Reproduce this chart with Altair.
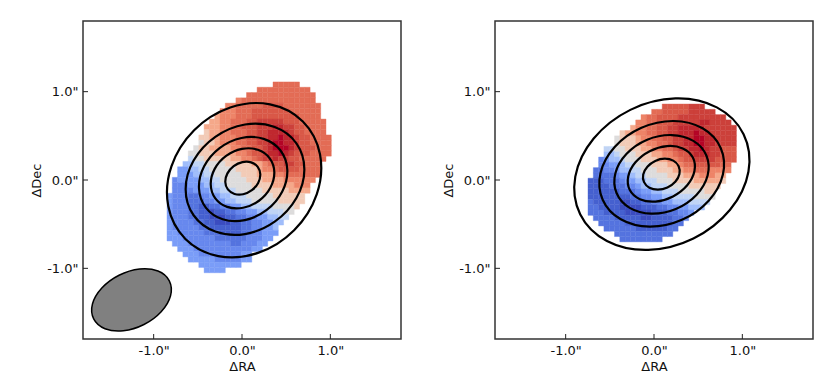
import altair as alt
import pandas as pd

# Velocity-map cells, one hex digit per cell (0 = deepest blue, f = deepest red)
left_starts = [20,17,15,13,11,10,9,8,7,7,6,6,5,4,4,3,2,2,1,1,1,0,0,0,0,0,0,0,0,0,1,2,3,4,6,7]
left_rows = [
 "bbbbb","bbbbbbbbbb","bbbbbbbbbbbbb","abbbbbbbbbbbbbb","aabbbbbccccbbbbbbb",
 "aaabbbcccccccbbbbbb","9aaabbbcccccccccbbbb","99aabbbccdddddcccbbbbb","999aabbcccdddeeddccbbbb",
 "899aabbbccddeeeedccbbbb","8899aaabbccddeefeedccbbbb","7889aaabbccddeffeedccbbbb",
 "7889999aabbccdefffedcccbbb","778889999aabccdeefedcccbbbb","6778888899aabcddeddccbbbbb",
 "556677778888899abccddccbbb","4455667777788889aabccccbbbb","444556677777888999aabbbbbbb",
 "344445566777778889999aaaaaa","33344455667777788889999aaa","33334445566677777888889999",
 "43332233445566677777888888","43332223344556667777788888","4333221122334455666677778",
 "433322110112233445566677","43332211000112233445566","4333322110001122334455",
 "433333221111112233445","443333322211112233444","44433333322222233344",
 "444333333332233344","4443333333333344","4443333333344","444443333344","44444444","4444",
]
right_starts = [14,12,10,9,8,6,5,5,3,3,2,2,1,1,0,0,0,0,0,0,0,1,2,3,5,6]
right_rows = [
 "cccccddd","bbcccccddddd","abbccccddddddddd","aabbcccdddddeedddd","9aabbccddeeeeedddddd",
 "899aabbccddeeefeeddddd","78889aabbccddeeffeedddd","788899aabbcddeeffeedddd",
 "667788899aabbcddeefeddccc","55677788899aabccdeeeddccc","3455677788899aabccddddcccc",
 "334456677788899abbcccccbb",
 "22334556677788899aabbbaaaa","22223445667777888999aaa99",
 "11122234455667778888999998","1111222334556667777888888",
 "111111222344556667777788","111111112233445566667777","21111100112233445556666",
 "2211110000111223344555","22211110000011122334","222211111001111223",
 "2222211111111122","22222211111122","22222222222","22222222",
]

# Intensity contours, read as (dRA, dDec) around each ellipse
left_contours = [
 [(.689,.663),(.317,.857),(-.133,.821),(-.542,.564),(-.799,.155),(-.835,-.295),(-.641,-.667),(-.269,-.861),(.181,-.825),(.590,-.568),(.847,-.159),(.883,.291)],
 [(.616,.415),(.370,.600),(.034,.628),(-.302,.488),(-.548,.220),(-.638,-.104),(-.548,-.399),(-.302,-.584),(.034,-.612),(.370,-.472),(.616,-.204),(.706,.120)],
 [(.436,.334),(.245,.466),(-.006,.476),(-.254,.361),(-.430,.152),(-.487,-.094),(-.410,-.312),(-.219,-.444),(.032,-.454),(.280,-.339),(.456,-.130),(.513,.116)],
 [(.314,.245),(.180,.342),(-.001,.352),(-.180,.273),(-.309,.126),(-.354,-.050),(-.302,-.207),(-.168,-.304),(.013,-.314),(.192,-.235),(.321,-.088),(.366,.088)],
 [(.178,.149),(.103,.200),(.005,.203),(-.094,.157),(-.165,.075),(-.189,-.022),(-.160,-.107),(-.085,-.158),(.013,-.161),(.112,-.115),(.183,-.033),(.207,.064)],
]
right_contours = [
 [(1.014,.519),(.711,.822),(.243,.923),(-.268,.794),(-.683,.469),(-.891,.038),(-.836,-.387),(-.533,-.690),(-.065,-.791),(.446,-.662),(.861,-.337),(1.069,.094)],
 [(.755,.363),(.550,.585),(.223,.668),(-.142,.591),(-.445,.374),(-.606,.077),(-.581,-.223),(-.376,-.445),(-.049,-.528),(.316,-.451),(.619,-.234),(.780,.063)],
 [(.594,.275),(.445,.443),(.200,.509),(-.077,.456),(-.310,.297),(-.437,.077),(-.424,-.147),(-.275,-.315),(-.030,-.381),(.247,-.328),(.480,-.169),(.607,.051)],
 [(.440,.254),(.326,.357),(.148,.384),(-.049,.326),(-.210,.200),(-.292,.039),(-.274,-.114),(-.160,-.217),(.018,-.244),(.215,-.186),(.376,-.060),(.458,.101)],
 [(.279,.156),(.218,.219),(.121,.241),(.014,.216),(-.075,.151),(-.122,.063),(-.113,-.024),(-.052,-.087),(.045,-.109),(.152,-.084),(.241,-.019),(.288,.069)],
]
beam = [(-.823,-1.141),(-.951,-1.030),(-1.159,-1.007),(-1.392,-1.078),(-1.587,-1.223),(-1.693,-1.404),(-1.679,-1.573),(-1.551,-1.684),(-1.343,-1.707),(-1.110,-1.636),(-.915,-1.491),(-.809,-1.310)]

# Matplotlib "coolwarm" sampled at the 16 levels
level_colors = ["#3b4cc0","#4560cf","#5473df","#6788ee","#7a9df8","#a0bdfb","#c0d4f5","#dddcdc",
                "#f2cbb7","#f5a88a","#ee8468","#e36c55","#d95847","#cc403a","#c0282f","#b40426"]
ticks = [-1, 0, 1]
limits = [-1.8, 1.8]
CELL = 0.06


def cell_table(starts, rows, x0, ytop):
    recs = []
    for r, (s, row) in enumerate(zip(starts, rows)):
        for i, ch in enumerate(row):
            c = s + i
            recs.append({"x": x0 + c * CELL, "x2": x0 + (c + 1) * CELL,
                         "y": ytop - r * CELL, "y2": ytop - (r + 1) * CELL,
                         "v": int(ch, 16)})
    return pd.DataFrame(recs)


def path_table(paths):
    return pd.DataFrame([{"x": x, "y": y, "k": k, "o": o}
                         for k, p in enumerate(paths) for o, (x, y) in enumerate(p)])


xs = alt.Scale(domain=limits, nice=False, zero=False)
ys = alt.Scale(domain=limits, nice=False, zero=False)
label_expr = "(datum.value<0?'-':'')+format(abs(datum.value),'.1f')+'\"'"
FONT = "DejaVu Sans"
axis_style = dict(values=ticks, labelExpr=label_expr, tickSize=0, domain=False, grid=False,
                  labelFont=FONT, labelFontSize=13, labelColor="#111", labelPadding=5,
                  titleFont=FONT, titleFontSize=13, titleFontWeight="normal", titleColor="#111", titlePadding=3)
x_enc = lambda f: alt.X(f, scale=xs, title="ΔRA", axis=alt.Axis(**axis_style))
y_enc = lambda f: alt.Y(f, scale=ys, title="ΔDec", axis=alt.Axis(**axis_style))


def panel(starts, rows, x0, ytop, contours, with_beam):
    color = alt.Scale(domain=list(range(16)), range=level_colors)
    cells = alt.Chart(cell_table(starts, rows, x0, ytop)).mark_rect(strokeWidth=0.4).encode(
        x=x_enc("x:Q"), x2="x2:Q", y=y_enc("y:Q"), y2="y2:Q",
        color=alt.Color("v:Q", scale=color, legend=None),
        stroke=alt.Stroke("v:Q", scale=color, legend=None),
    )
    lines = alt.Chart(path_table(contours)).mark_line(
        interpolate="cardinal-closed", color="black", strokeWidth=2.2).encode(
        x=x_enc("x:Q"), y=y_enc("y:Q"), detail="k:N", order="o:Q")
    tick_df = pd.DataFrame({"t": ticks})
    tx = alt.Chart(tick_df).mark_rule(color="#222", strokeWidth=1).encode(
        x=x_enc("t:Q"), y=alt.value(318), y2=alt.value(313))
    ty = alt.Chart(tick_df).mark_rule(color="#222", strokeWidth=1).encode(
        y=y_enc("t:Q"), x=alt.value(0), x2=alt.value(5))
    layers = [cells, lines]
    if with_beam:
        layers.append(alt.Chart(path_table([beam])).mark_line(
            interpolate="cardinal-closed", stroke="black", fill="#808080", strokeWidth=1.5).encode(
            x=x_enc("x:Q"), y=y_enc("y:Q"), order="o:Q"))
    layers += [tx, ty]
    return alt.layer(*layers).properties(width=318, height=318)


chart = alt.hconcat(
    panel(left_starts, left_rows, -0.849, 1.11, left_contours, True),
    panel(right_starts, right_rows, -0.747, 0.86, right_contours, False),
    spacing=39,
).properties(padding={"left": 21, "top": 12, "right": 0, "bottom": 0}, background="white"
).configure_view(stroke="#333", strokeWidth=1.5)

chart.save("out.html", embed_options={"renderer": "svg", "actions": False})
